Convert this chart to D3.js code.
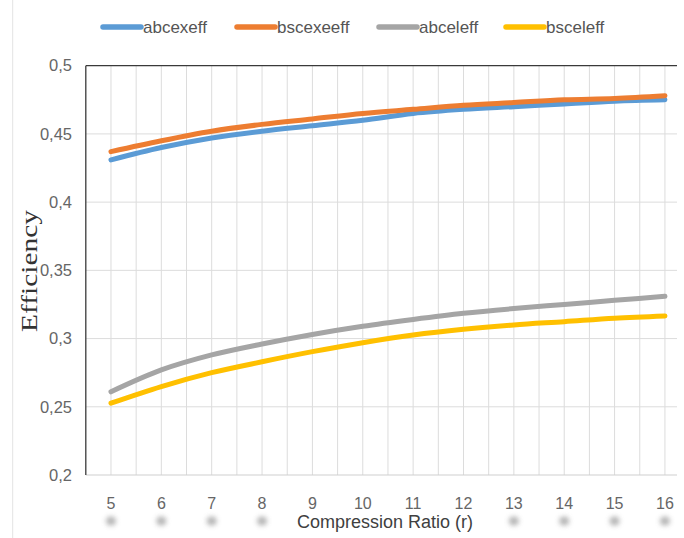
<!DOCTYPE html>
<html>
<head>
<meta charset="utf-8">
<script src="https://cdn.jsdelivr.net/npm/d3@7"></script>
<style>
  html, body { margin: 0; padding: 0; background: #fff; }
  svg { display: block; }
</style>
</head>
<body>
<svg id="chart" width="684" height="538"></svg>
<script>
// ---- data ----
const ratios = [5, 6, 7, 8, 9, 10, 11, 12, 13, 14, 15, 16];
const abcexeff = [0.431, 0.440, 0.447, 0.452, 0.456, 0.460, 0.465, 0.468, 0.470, 0.472, 0.474, 0.475];
const bscexeeff = [0.437, 0.445, 0.452, 0.457, 0.461, 0.465, 0.468, 0.471, 0.473, 0.475, 0.476, 0.478];
const abceleff = [0.261, 0.277, 0.288, 0.296, 0.303, 0.309, 0.314, 0.3185, 0.322, 0.325, 0.328, 0.331];
const bsceleff = [0.2526, 0.2648, 0.275, 0.283, 0.2904, 0.297, 0.3026, 0.3068, 0.310, 0.3124, 0.3149, 0.3166];
const seriesNames = ["abcexeff", "bscexeeff", "abceleff", "bsceleff"];
const seriesValues = [abcexeff, bscexeeff, abceleff, bsceleff];
const seriesColors = ["#5b9bd5", "#ed7d31", "#a5a5a5", "#ffc000"];
const yTicks = [0.2, 0.25, 0.3, 0.35, 0.4, 0.45, 0.5];
const yTickLabels = ["0,2", "0,25", "0,3", "0,35", "0,4", "0,45", "0,5"];

// ---- layout ----
const svg = d3.select("#chart");
const pLeft = 85.8, pTop = 65.7, pBottom = 475, clipRight = 677;
const x = d3.scaleLinear().domain([4.5, 16.5]).range([pLeft, pLeft + 12 * 50.36]);
const y = d3.scaleLinear().domain([0.2, 0.5]).range([pBottom, pTop]);

// outer chart border (left edge only visible)
svg.append("line").attr("x1", 12.7).attr("x2", 12.7).attr("y1", 0).attr("y2", 538)
  .attr("stroke", "#e3e3e3").attr("stroke-width", 1);

const defs = svg.append("defs");
defs.append("clipPath").attr("id", "plotclip").append("rect")
  .attr("x", pLeft).attr("y", pTop - 5).attr("width", clipRight - pLeft).attr("height", pBottom - pTop + 10);
defs.append("filter").attr("id", "blur").attr("x", "-80%").attr("y", "-80%").attr("width", "260%").attr("height", "260%")
  .append("feGaussianBlur").attr("stdDeviation", 2.6);

const plot = svg.append("g").attr("clip-path", "url(#plotclip)");

// vertical gridlines (major + half)
const vGrid = d3.range(5, 16.51, 0.5);
plot.append("g").selectAll("line").data(vGrid).join("line")
  .attr("x1", d => x(d)).attr("x2", d => x(d))
  .attr("y1", pTop).attr("y2", pBottom)
  .attr("stroke", "#dcdcdc").attr("stroke-width", 1);

// horizontal gridlines
plot.append("g").selectAll("line").data(yTicks.slice(1, -1)).join("line")
  .attr("x1", pLeft).attr("x2", clipRight)
  .attr("y1", d => y(d)).attr("y2", d => y(d))
  .attr("stroke", "#dcdcdc").attr("stroke-width", 1);

// bottom axis line (light)
svg.append("line").attr("x1", pLeft).attr("x2", clipRight).attr("y1", pBottom).attr("y2", pBottom)
  .attr("stroke", "#d0d0d0").attr("stroke-width", 1.2);
// top and left borders (dark)
svg.append("line").attr("x1", pLeft).attr("x2", clipRight).attr("y1", pTop).attr("y2", pTop)
  .attr("stroke", "#3a3a3a").attr("stroke-width", 1.3);
svg.append("line").attr("x1", pLeft).attr("x2", pLeft).attr("y1", pTop).attr("y2", pBottom)
  .attr("stroke", "#3a3a3a").attr("stroke-width", 1.3);

// series lines
const line = d3.line().x((d, i) => x(ratios[i])).y(d => y(d)).curve(d3.curveMonotoneX);
seriesValues.forEach((vals, k) => {
  plot.append("path").datum(vals)
    .attr("d", line)
    .attr("fill", "none")
    .attr("stroke", seriesColors[k])
    .attr("stroke-width", 5)
    .attr("stroke-linecap", "round")
    .attr("stroke-linejoin", "round");
});

// y tick labels
svg.append("g").selectAll("text").data(yTicks).join("text")
  .attr("x", 72).attr("y", d => y(d)).attr("dy", "0.35em")
  .attr("text-anchor", "end")
  .attr("font-family", "Liberation Sans, Arial, sans-serif")
  .attr("font-size", 16.5).attr("fill", "#666")
  .text((d, i) => yTickLabels[i]);

// x tick label shadows
svg.append("g").selectAll("ellipse").data(ratios).join("ellipse")
  .attr("cx", d => x(d)).attr("cy", 521).attr("rx", 5).attr("ry", 4.5)
  .attr("fill", "#a0a0a0").attr("opacity", 0.8).attr("filter", "url(#blur)");

// x tick labels
svg.append("g").selectAll("text").data(ratios).join("text")
  .attr("x", d => x(d)).attr("y", 503).attr("dy", "0.35em")
  .attr("text-anchor", "middle")
  .attr("font-family", "Liberation Sans, Arial, sans-serif")
  .attr("font-size", 16).attr("fill", "#666")
  .text(d => d);

// x axis title with white backing
svg.append("rect").attr("x", 292).attr("y", 511).attr("width", 186).attr("height", 24).attr("fill", "#fff");
svg.append("text").attr("x", 385).attr("y", 522).attr("dy", "0.35em")
  .attr("text-anchor", "middle")
  .attr("font-family", "Liberation Sans, Arial, sans-serif")
  .attr("font-size", 18).attr("fill", "#404040")
  .text("Compression Ratio (r)");

// y axis title
svg.append("text")
  .attr("transform", "translate(37,271) rotate(-90)")
  .attr("text-anchor", "middle")
  .attr("font-family", "Liberation Serif, Times New Roman, serif")
  .attr("font-size", 23).attr("fill", "#333")
  .attr("textLength", 122).attr("lengthAdjust", "spacingAndGlyphs")
  .text("Efficiency");

// legend
const legendLineX = [103, 237, 379, 506];
const legend = svg.append("g");
seriesNames.forEach((name, k) => {
  legend.append("line")
    .attr("x1", legendLineX[k]).attr("x2", legendLineX[k] + 38)
    .attr("y1", 27).attr("y2", 27)
    .attr("stroke", seriesColors[k]).attr("stroke-width", 5.5).attr("stroke-linecap", "round");
  legend.append("text")
    .attr("x", legendLineX[k] + 40).attr("y", 27).attr("dy", "0.35em")
    .attr("font-family", "Liberation Sans, Arial, sans-serif")
    .attr("font-size", 17).attr("fill", "#555")
    .text(name);
});
</script>
</body>
</html>
